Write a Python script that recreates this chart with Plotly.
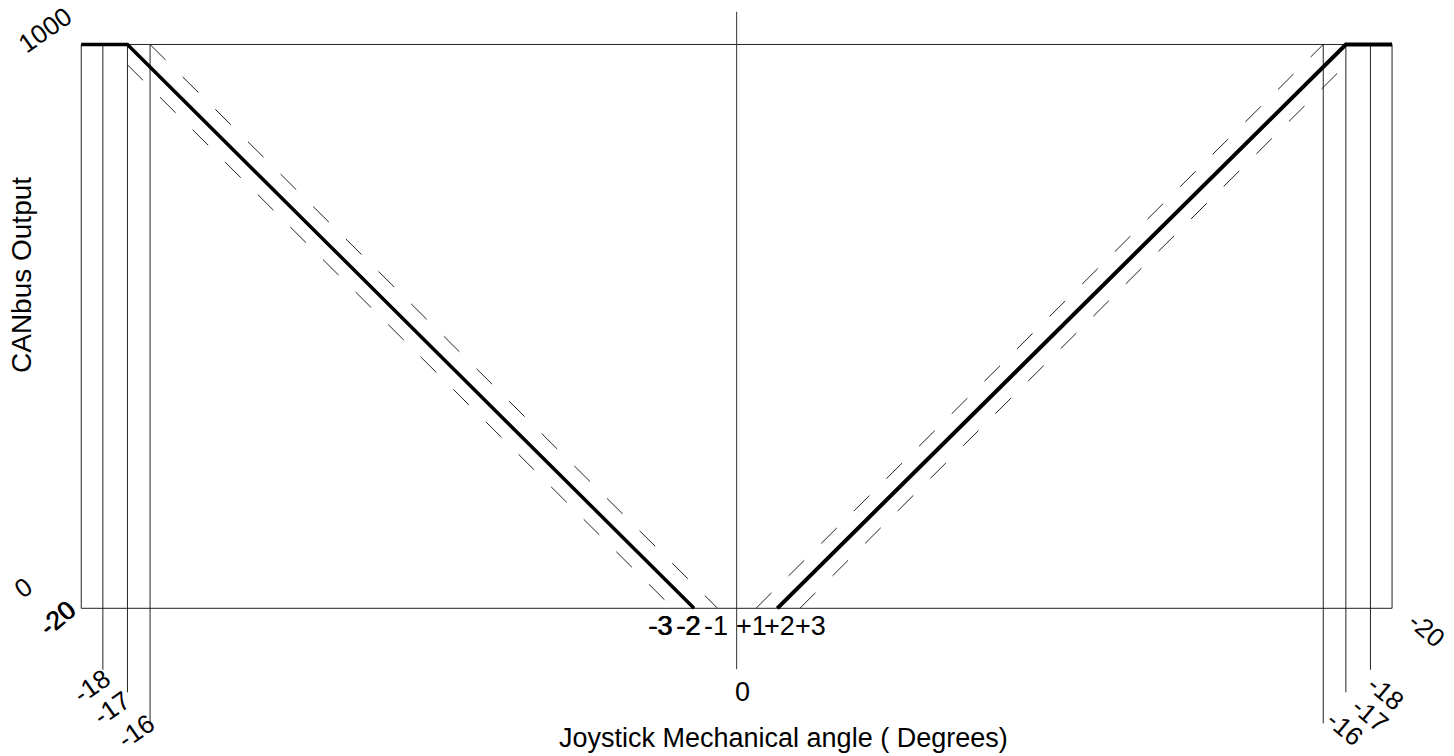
import plotly.graph_objects as go

# schematic units: x in "degrees" as placed on the drawing, y in CANbus output counts
frame_x = [-20, 20, 20, -20, -20]
frame_y = [0, 0, 1000, 1000, 0]

center_x = [0, 0]
center_y = [1058, -108]

guide_x = [-19.34, -18.59, -17.90, 17.90, 18.59, 19.34]
guide_top = [1000, 1000, 1000, 1000, 1000, 1000]
guide_bottom = [-109, -149, -204, -204, -149, -109]

solid_left_x = [-20, -18.59, -1.30]
solid_left_y = [1000, 1000, 0]
solid_right_x = [1.24, 18.59, 20]
solid_right_y = [0, 1000, 1000]

dash_left_x = [[-17.90, -0.58], [-18.59, -1.94]]
dash_left_y = [[1000, 0], [964, 0]]
dash_right_x = [[0.59, 17.90], [1.93, 18.59]]
dash_right_y = [[0, 1000], [0, 964]]

center_labels = ['-3', '-2', '-1', '+1', '+2', '+3']
center_label_x = [-2.34, -1.49, -0.62, 0.44, 1.32, 2.24]
center_heavy = [True, True, False, False, False, False]

left_labels = ['-18', '-17', '-16']
left_label_x = [-19.67, -19.06, -18.33]
left_label_y = [-138, -177, -217]
right_labels = ['-18', '-17', '-16']
right_label_x = [19.81, 19.33, 18.55]
right_label_y = [-150, -190, -213]

font = 'Liberation Sans, Arial, sans-serif'

fig = go.Figure()

def line(x, y, width=1, dash='solid', color='black'):
    fig.add_trace(go.Scatter(x=x, y=y, mode='lines', hoverinfo='skip',
                             line=dict(color=color, width=width, dash=dash),
                             showlegend=False))

line(frame_x, frame_y, 1, color='#222')
line(center_x, center_y, 1, color='#333')
for gx, gt, gb in zip(guide_x, guide_top, guide_bottom):
    line([gx, gx], [gt, gb], 1, color='#222')
for xs, ys in zip(dash_left_x + dash_right_x, dash_left_y + dash_right_y):
    line(xs, ys, 1, dash='22px,24px', color='#222')
line(solid_left_x, solid_left_y, 3.5)
line(solid_right_x, solid_right_y, 4)

def label(text, x, y, size=24, angle=0, heavy=False):
    for shift in ([0, 0.7] if heavy else [0]):
        fig.add_annotation(x=x, y=y, text=text, showarrow=False, textangle=angle,
                           xanchor='center', yanchor='middle', xshift=shift,
                           font=dict(family=font, size=size, color='black'))

for t, x, h in zip(center_labels, center_label_x, center_heavy):
    label(t, x, -32, 27, heavy=h)
label('0', 0.19, -148, 27)

label('1000', -21.11, 1026, 26, -35)
label('0', -21.78, 36, 26, -35)
label('-20', -20.74, -17, 26, -40, heavy=True)
label('-20', 21.07, -38, 26, 40)
for t, x, y in zip(left_labels, left_label_x, left_label_y):
    label(t, x, y, 26, -35)
for t, x, y in zip(right_labels, right_label_x, right_label_y):
    label(t, x, y, 26, 40)

label('Joystick Mechanical angle ( Degrees)', 1.43, -230, 27)
label('CANbus Output', -21.84, 591, 28, -90)

fig.update_xaxes(visible=False, range=[-22.479, 21.890], fixedrange=True)
fig.update_yaxes(visible=False, range=[-261.97, 1078.9], fixedrange=True)
fig.update_layout(width=1454, height=756, autosize=False,
                  margin=dict(l=0, r=0, t=0, b=0, pad=0),
                  plot_bgcolor='white', paper_bgcolor='white')

fig.write_html("out.html", config={'displayModeBar': False},
               post_script="document.body.style.margin='0';")
